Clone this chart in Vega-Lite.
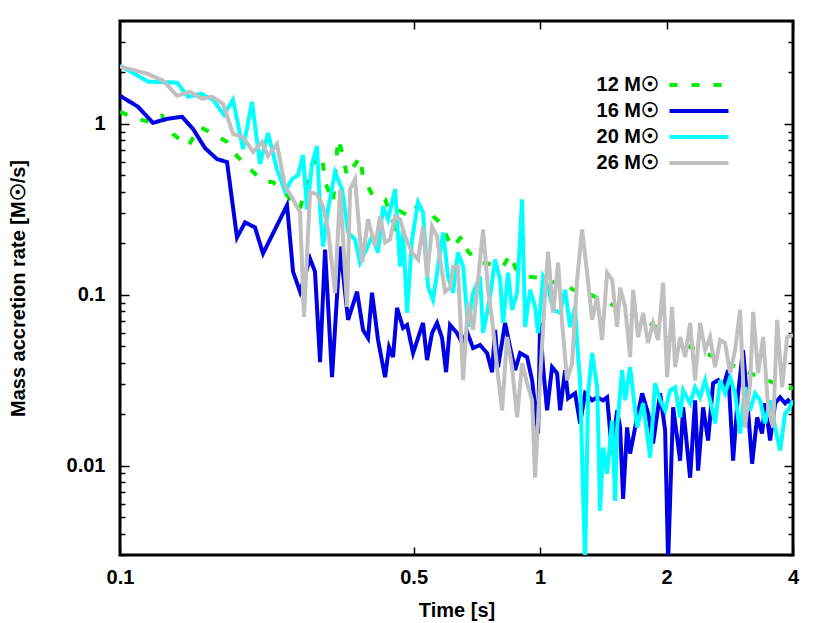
{
"$schema": "https://vega.github.io/schema/vega-lite/v6.json",
"width": 673, "height": 534,
"autosize": "none",
"padding": {"left": 120, "top": 21, "right": 37, "bottom": 68},
"background": "white",
"config": {
 "view": {"stroke": "black", "strokeWidth": 3},
 "font": "Liberation Sans",
 "axis": {"domain": false, "grid": false, "labelFont": "Liberation Sans", "labelFontSize": 20, "labelFontWeight": "bold", "labelColor": "black", "tickColor": "black", "tickWidth": 1.5, "titleFont": "Liberation Sans", "titleFontSize": 20, "titleFontWeight": "bold", "titleColor": "black", "labelFlush": false, "labelOverlap": false}
},
"datasets": {"d": [
{"s":"12","t":0.1,"v":1.176},{"s":"12","t":0.1098,"v":1.07},{"s":"12","t":0.1179,"v":1.027},{"s":"12","t":0.1259,"v":1.115},{"s":"12","t":0.1337,"v":0.873},{"s":"12","t":0.1452,"v":0.742},{"s":"12","t":0.155,"v":0.96},{"s":"12","t":0.1702,"v":0.85},{"s":"12","t":0.1798,"v":0.784},{"s":"12","t":0.1899,"v":0.648},{"s":"12","t":0.204,"v":0.544},{"s":"12","t":0.219,"v":0.462},{"s":"12","t":0.2313,"v":0.456},{"s":"12","t":0.2444,"v":0.404},{"s":"12","t":0.2683,"v":0.316},{"s":"12","t":0.2834,"v":0.566},{"s":"12","t":0.3027,"v":0.648},{"s":"12","t":0.3077,"v":0.456},{"s":"12","t":0.3215,"v":0.348},{"s":"12","t":0.3304,"v":0.816},{"s":"12","t":0.3378,"v":0.684},{"s":"12","t":0.3472,"v":0.494},{"s":"12","t":0.3728,"v":0.64},{"s":"12","t":0.379,"v":0.488},{"s":"12","t":0.4003,"v":0.377},{"s":"12","t":0.4276,"v":0.362},{"s":"12","t":0.4516,"v":0.251},{"s":"12","t":0.4642,"v":0.308},{"s":"12","t":0.4904,"v":0.288},{"s":"12","t":0.5094,"v":0.329},{"s":"12","t":0.5382,"v":0.316},{"s":"12","t":0.5562,"v":0.288},{"s":"12","t":0.5781,"v":0.265},{"s":"12","t":0.6172,"v":0.189},{"s":"12","t":0.6522,"v":0.22},{"s":"12","t":0.674,"v":0.179},{"s":"12","t":0.7119,"v":0.156},{"s":"12","t":0.7729,"v":0.15},{"s":"12","t":0.8165,"v":0.146},{"s":"12","t":0.8483,"v":0.172},{"s":"12","t":0.8815,"v":0.137},{"s":"12","t":0.9312,"v":0.128},{"s":"12","t":0.9837,"v":0.126},{"s":"12","t":1.0447,"v":0.118},{"s":"12","t":1.1283,"v":0.119},{"s":"12","t":1.1983,"v":0.107},{"s":"12","t":1.294,"v":0.103},{"s":"12","t":1.3895,"v":0.0935},{"s":"12","t":1.5253,"v":0.085},{"s":"12","t":1.808,"v":0.0694},{"s":"12","t":2.1309,"v":0.0529},{"s":"12","t":2.6388,"v":0.0426},{"s":"12","t":2.8027,"v":0.0398},{"s":"12","t":3.11,"v":0.0352},{"s":"12","t":3.396,"v":0.0325},{"s":"12","t":3.79,"v":0.0288},{"s":"12","t":4.0,"v":0.0284},
{"s":"16","t":0.1,"v":1.461},{"s":"16","t":0.1104,"v":1.259},{"s":"16","t":0.1198,"v":1.014},{"s":"16","t":0.1294,"v":1.07},{"s":"16","t":0.1405,"v":1.1},{"s":"16","t":0.1492,"v":0.935},{"s":"16","t":0.1593,"v":0.7225},{"s":"16","t":0.1702,"v":0.622},{"s":"16","t":0.1798,"v":0.598},{"s":"16","t":0.1899,"v":0.2164},{"s":"16","t":0.1985,"v":0.2652},{"s":"16","t":0.2096,"v":0.2478},{"s":"16","t":0.219,"v":0.1743},{"s":"16","t":0.2339,"v":0.2412},{"s":"16","t":0.2498,"v":0.3339},{"s":"16","t":0.2582,"v":0.1366},{"s":"16","t":0.2683,"v":0.1042},{"s":"16","t":0.2834,"v":0.1628},{"s":"16","t":0.2912,"v":0.1366},{"s":"16","t":0.2994,"v":0.04036},{"s":"16","t":0.3077,"v":0.1839},{"s":"16","t":0.3197,"v":0.03293},{"s":"16","t":0.3341,"v":0.1916},{"s":"16","t":0.3491,"v":0.07127},{"s":"16","t":0.3667,"v":0.1042},{"s":"16","t":0.379,"v":0.06223},{"s":"16","t":0.3895,"v":0.05585},{"s":"16","t":0.3981,"v":0.1027},{"s":"16","t":0.4114,"v":0.05434},{"s":"16","t":0.4276,"v":0.03293},{"s":"16","t":0.437,"v":0.04943},{"s":"16","t":0.4467,"v":0.04318},{"s":"16","t":0.4566,"v":0.08384},{"s":"16","t":0.4718,"v":0.06394},{"s":"16","t":0.4823,"v":0.06659},{"s":"16","t":0.4985,"v":0.04559},{"s":"16","t":0.5122,"v":0.05585},{"s":"16","t":0.5264,"v":0.06843},{"s":"16","t":0.5382,"v":0.04146},{"s":"16","t":0.5532,"v":0.05976},{"s":"16","t":0.5685,"v":0.06843},{"s":"16","t":0.5844,"v":0.05585},{"s":"16","t":0.5973,"v":0.03524},{"s":"16","t":0.6105,"v":0.06659},{"s":"16","t":0.6339,"v":0.05976},{"s":"16","t":0.6522,"v":0.0522},{"s":"16","t":0.6703,"v":0.06058},{"s":"16","t":0.6926,"v":0.04877},{"s":"16","t":0.7197,"v":0.0508},{"s":"16","t":0.7478,"v":0.04559},{"s":"16","t":0.7686,"v":0.03524},{"s":"16","t":0.7814,"v":0.06223},{"s":"16","t":0.7943,"v":0.03771},{"s":"16","t":0.8255,"v":0.06843},{"s":"16","t":0.8483,"v":0.04943},{"s":"16","t":0.8719,"v":0.03621},{"s":"16","t":0.8962,"v":0.04559},{"s":"16","t":0.9312,"v":0.04318},{"s":"16","t":0.9572,"v":0.03162},{"s":"16","t":0.9891,"v":0.01543},{"s":"16","t":1.0,"v":0.06843},{"s":"16","t":1.0166,"v":0.03771},{"s":"16","t":1.0391,"v":0.02106},{"s":"16","t":1.068,"v":0.03771},{"s":"16","t":1.0978,"v":0.03476},{"s":"16","t":1.116,"v":0.02106},{"s":"16","t":1.147,"v":0.03621},{"s":"16","t":1.166,"v":0.02477},{"s":"16","t":1.2115,"v":0.02651},{"s":"16","t":1.2453,"v":0.01767},{"s":"16","t":1.2799,"v":0.02651},{"s":"16","t":1.3302,"v":0.02412},{"s":"16","t":1.3675,"v":0.02512},{"s":"16","t":1.4125,"v":0.02412},{"s":"16","t":1.444,"v":0.02512},{"s":"16","t":1.484,"v":0.01176},{"s":"16","t":1.5253,"v":0.02106},{"s":"16","t":1.5505,"v":0.01673},{"s":"16","t":1.5763,"v":0.00639},{"s":"16","t":1.6113,"v":0.01673},{"s":"16","t":1.6379,"v":0.01176},{"s":"16","t":1.7021,"v":0.01916},{"s":"16","t":1.7494,"v":0.02651},{"s":"16","t":1.808,"v":0.02022},{"s":"16","t":1.8578,"v":0.01347},{"s":"16","t":1.9307,"v":0.02651},{"s":"16","t":1.9846,"v":0.01607},{"s":"16","t":2.0173,"v":0.00276},{"s":"16","t":2.0733,"v":0.02195},{"s":"16","t":2.1544,"v":0.0107},{"s":"16","t":2.1903,"v":0.02195},{"s":"16","t":2.2758,"v":0.0085},{"s":"16","t":2.3389,"v":0.02412},{"s":"16","t":2.3778,"v":0.00935},{"s":"16","t":2.444,"v":0.02195},{"s":"16","t":2.5119,"v":0.01404},{"s":"16","t":2.5816,"v":0.03037},{"s":"16","t":2.6533,"v":0.03162},{"s":"16","t":2.7271,"v":0.02876},{"s":"16","t":2.8027,"v":0.03621},{"s":"16","t":2.8804,"v":0.0107},{"s":"16","t":2.9603,"v":0.02651},{"s":"16","t":3.0425,"v":0.04748},{"s":"16","t":3.127,"v":0.02106},{"s":"16","t":3.197,"v":0.01027},{"s":"16","t":3.286,"v":0.01916},{"s":"16","t":3.3772,"v":0.01543},{"s":"16","t":3.433,"v":0.02316},{"s":"16","t":3.5287,"v":0.01404},{"s":"16","t":3.627,"v":0.02316},{"s":"16","t":3.7276,"v":0.02512},{"s":"16","t":3.831,"v":0.02316},{"s":"16","t":3.895,"v":0.02412},{"s":"16","t":4.0,"v":0.02254},
{"s":"20","t":0.1,"v":2.193},{"s":"20","t":0.1166,"v":1.767},{"s":"20","t":0.1367,"v":1.743},{"s":"20","t":0.1452,"v":1.441},{"s":"20","t":0.1559,"v":1.501},{"s":"20","t":0.1665,"v":1.384},{"s":"20","t":0.1768,"v":1.13},{"s":"20","t":0.1858,"v":1.384},{"s":"20","t":0.1963,"v":0.7128},{"s":"20","t":0.2062,"v":1.347},{"s":"20","t":0.2154,"v":0.5817},{"s":"20","t":0.2251,"v":0.8852},{"s":"20","t":0.2364,"v":0.5435},{"s":"20","t":0.2471,"v":0.4036},{"s":"20","t":0.2568,"v":0.4748},{"s":"20","t":0.2653,"v":0.5012},{"s":"20","t":0.2727,"v":0.6572},{"s":"20","t":0.2787,"v":0.3162},{"s":"20","t":0.2865,"v":0.5817},{"s":"20","t":0.2944,"v":0.7422},{"s":"20","t":0.2994,"v":0.3162},{"s":"20","t":0.3043,"v":0.1916},{"s":"20","t":0.3128,"v":0.3162},{"s":"20","t":0.325,"v":0.522},{"s":"20","t":0.3378,"v":0.4146},{"s":"20","t":0.3491,"v":0.2316},{"s":"20","t":0.3627,"v":0.2106},{"s":"20","t":0.3728,"v":0.1543},{"s":"20","t":0.3831,"v":0.1767},{"s":"20","t":0.3981,"v":0.2195},{"s":"20","t":0.4114,"v":0.1767},{"s":"20","t":0.4229,"v":0.3294},{"s":"20","t":0.4347,"v":0.2762},{"s":"20","t":0.4516,"v":0.4146},{"s":"20","t":0.4642,"v":0.1461},{"s":"20","t":0.4718,"v":0.2412},{"s":"20","t":0.4823,"v":0.07834},{"s":"20","t":0.4957,"v":0.2106},{"s":"20","t":0.5122,"v":0.3476},{"s":"20","t":0.5264,"v":0.3037},{"s":"20","t":0.5411,"v":0.1114},{"s":"20","t":0.5562,"v":0.09346},{"s":"20","t":0.5715,"v":0.1461},{"s":"20","t":0.5875,"v":0.2316},{"s":"20","t":0.6039,"v":0.1276},{"s":"20","t":0.6206,"v":0.1027},{"s":"20","t":0.6374,"v":0.1767},{"s":"20","t":0.6558,"v":0.1461},{"s":"20","t":0.674,"v":0.06483},{"s":"20","t":0.6926,"v":0.1027},{"s":"20","t":0.7197,"v":0.1276},{"s":"20","t":0.7316,"v":0.05976},{"s":"20","t":0.7603,"v":0.09732},{"s":"20","t":0.7814,"v":0.1606},{"s":"20","t":0.8032,"v":0.1225},{"s":"20","t":0.8165,"v":0.06843},{"s":"20","t":0.8391,"v":0.1347},{"s":"20","t":0.8577,"v":0.08163},{"s":"20","t":0.8815,"v":0.1027},{"s":"20","t":0.906,"v":0.3621},{"s":"20","t":0.9211,"v":0.06483},{"s":"20","t":0.9467,"v":0.107},{"s":"20","t":0.973,"v":0.085},{"s":"20","t":0.9891,"v":0.05976},{"s":"20","t":1.0166,"v":0.1276},{"s":"20","t":1.0447,"v":0.1114},{"s":"20","t":1.0739,"v":0.08163},{"s":"20","t":1.116,"v":0.07834},{"s":"20","t":1.147,"v":0.107},{"s":"20","t":1.1787,"v":0.06483},{"s":"20","t":1.2115,"v":0.085},{"s":"20","t":1.2249,"v":0.0522},{"s":"20","t":1.2453,"v":0.03162},{"s":"20","t":1.2659,"v":0.00684},{"s":"20","t":1.2799,"v":0.00276},{"s":"20","t":1.3011,"v":0.02651},{"s":"20","t":1.3302,"v":0.04559},{"s":"20","t":1.3675,"v":0.02876},{"s":"20","t":1.3895,"v":0.00544},{"s":"20","t":1.4125,"v":0.01276},{"s":"20","t":1.444,"v":0.00897},{"s":"20","t":1.484,"v":0.0184},{"s":"20","t":1.5087,"v":0.00622},{"s":"20","t":1.5253,"v":0.01673},{"s":"20","t":1.5677,"v":0.03621},{"s":"20","t":1.5937,"v":0.02412},{"s":"20","t":1.6379,"v":0.03771},{"s":"20","t":1.7021,"v":0.01673},{"s":"20","t":1.7591,"v":0.02316},{"s":"20","t":1.828,"v":0.01114},{"s":"20","t":1.8783,"v":0.03037},{"s":"20","t":1.9307,"v":0.02412},{"s":"20","t":1.9846,"v":0.02106},{"s":"20","t":2.0393,"v":0.02762},{"s":"20","t":2.0961,"v":0.02876},{"s":"20","t":2.1544,"v":0.01916},{"s":"20","t":2.1903,"v":0.02762},{"s":"20","t":2.2758,"v":0.02316},{"s":"20","t":2.3389,"v":0.02876},{"s":"20","t":2.404,"v":0.02512},{"s":"20","t":2.471,"v":0.03162},{"s":"20","t":2.5396,"v":0.02412},{"s":"20","t":2.6101,"v":0.01767},{"s":"20","t":2.6827,"v":0.03162},{"s":"20","t":2.7571,"v":0.02651},{"s":"20","t":2.8336,"v":0.03293},{"s":"20","t":2.9122,"v":0.02651},{"s":"20","t":2.9929,"v":0.01543},{"s":"20","t":3.076,"v":0.02876},{"s":"20","t":3.1623,"v":0.02106},{"s":"20","t":3.25,"v":0.02651},{"s":"20","t":3.3404,"v":0.02412},{"s":"20","t":3.433,"v":0.01767},{"s":"20","t":3.5287,"v":0.02412},{"s":"20","t":3.627,"v":0.01673},{"s":"20","t":3.7276,"v":0.01225},{"s":"20","t":3.831,"v":0.02022},{"s":"20","t":3.895,"v":0.02106},{"s":"20","t":4.0,"v":0.02412},
{"s":"26","t":0.1,"v":2.164},{"s":"26","t":0.116,"v":1.968},{"s":"26","t":0.1266,"v":1.79},{"s":"26","t":0.1367,"v":1.461},{"s":"26","t":0.1468,"v":1.543},{"s":"26","t":0.1567,"v":1.403},{"s":"26","t":0.1656,"v":1.441},{"s":"26","t":0.1759,"v":1.311},{"s":"26","t":0.1858,"v":0.8733},{"s":"26","t":0.1963,"v":0.8385},{"s":"26","t":0.2074,"v":0.6844},{"s":"26","t":0.2178,"v":0.7835},{"s":"26","t":0.2251,"v":0.6482},{"s":"26","t":0.2364,"v":0.7627},{"s":"26","t":0.2471,"v":0.4316},{"s":"26","t":0.2582,"v":0.3621},{"s":"26","t":0.2683,"v":0.3037},{"s":"26","t":0.2742,"v":0.07424},{"s":"26","t":0.2834,"v":0.3981},{"s":"26","t":0.2944,"v":0.3875},{"s":"26","t":0.3043,"v":0.3294},{"s":"26","t":0.3128,"v":0.2412},{"s":"26","t":0.325,"v":0.1027},{"s":"26","t":0.3341,"v":0.4146},{"s":"26","t":0.3472,"v":0.085},{"s":"26","t":0.3529,"v":0.4146},{"s":"26","t":0.3627,"v":0.4748},{"s":"26","t":0.3769,"v":0.1543},{"s":"26","t":0.3895,"v":0.2762},{"s":"26","t":0.4047,"v":0.1916},{"s":"26","t":0.4159,"v":0.2876},{"s":"26","t":0.4276,"v":0.2022},{"s":"26","t":0.4394,"v":0.2106},{"s":"26","t":0.4516,"v":0.2876},{"s":"26","t":0.4642,"v":0.2762},{"s":"26","t":0.4771,"v":0.2195},{"s":"26","t":0.4957,"v":0.1767},{"s":"26","t":0.5122,"v":0.1606},{"s":"26","t":0.5264,"v":0.2512},{"s":"26","t":0.5382,"v":0.1276},{"s":"26","t":0.5532,"v":0.2512},{"s":"26","t":0.5685,"v":0.2195},{"s":"26","t":0.5781,"v":0.1606},{"s":"26","t":0.594,"v":0.1042},{"s":"26","t":0.6105,"v":0.1099},{"s":"26","t":0.6206,"v":0.1461},{"s":"26","t":0.6374,"v":0.1461},{"s":"26","t":0.6558,"v":0.03162},{"s":"26","t":0.674,"v":0.08974},{"s":"26","t":0.6926,"v":0.06223},{"s":"26","t":0.7119,"v":0.1225},{"s":"26","t":0.7316,"v":0.2412},{"s":"26","t":0.7519,"v":0.107},{"s":"26","t":0.7686,"v":0.07127},{"s":"26","t":0.79,"v":0.03771},{"s":"26","t":0.812,"v":0.02106},{"s":"26","t":0.8345,"v":0.05662},{"s":"26","t":0.8577,"v":0.03771},{"s":"26","t":0.8815,"v":0.01916},{"s":"26","t":0.906,"v":0.03981},{"s":"26","t":0.9312,"v":0.03037},{"s":"26","t":0.9572,"v":0.02412},{"s":"26","t":0.973,"v":0.0085},{"s":"26","t":1.0,"v":0.03162},{"s":"26","t":1.0278,"v":0.1027},{"s":"26","t":1.0447,"v":0.179},{"s":"26","t":1.0739,"v":0.07834},{"s":"26","t":1.1038,"v":0.1543},{"s":"26","t":1.1283,"v":0.06843},{"s":"26","t":1.1596,"v":0.03162},{"s":"26","t":1.1918,"v":0.03981},{"s":"26","t":1.2249,"v":0.1225},{"s":"26","t":1.2589,"v":0.2412},{"s":"26","t":1.294,"v":0.1347},{"s":"26","t":1.3302,"v":0.07127},{"s":"26","t":1.3675,"v":0.09732},{"s":"26","t":1.4047,"v":0.05434},{"s":"26","t":1.444,"v":0.1347},{"s":"26","t":1.484,"v":0.1225},{"s":"26","t":1.5253,"v":0.06483},{"s":"26","t":1.5505,"v":0.1099},{"s":"26","t":1.5937,"v":0.085},{"s":"26","t":1.6379,"v":0.04318},{"s":"26","t":1.6651,"v":0.107},{"s":"26","t":1.7113,"v":0.05662},{"s":"26","t":1.7591,"v":0.07834},{"s":"26","t":1.808,"v":0.0522},{"s":"26","t":1.8578,"v":0.06843},{"s":"26","t":1.9093,"v":0.05434},{"s":"26","t":1.963,"v":0.1176},{"s":"26","t":2.0063,"v":0.03293},{"s":"26","t":2.062,"v":0.085},{"s":"26","t":2.0961,"v":0.03771},{"s":"26","t":2.1544,"v":0.05662},{"s":"26","t":2.2144,"v":0.04318},{"s":"26","t":2.2758,"v":0.06843},{"s":"26","t":2.3389,"v":0.03162},{"s":"26","t":2.404,"v":0.06843},{"s":"26","t":2.471,"v":0.04748},{"s":"26","t":2.5396,"v":0.05662},{"s":"26","t":2.6101,"v":0.03771},{"s":"26","t":2.6827,"v":0.05434},{"s":"26","t":2.7571,"v":0.0522},{"s":"26","t":2.8336,"v":0.03476},{"s":"26","t":2.9122,"v":0.04748},{"s":"26","t":2.9929,"v":0.08163},{"s":"26","t":3.076,"v":0.01673},{"s":"26","t":3.1623,"v":0.03037},{"s":"26","t":3.2148,"v":0.07943},{"s":"26","t":3.304,"v":0.03476},{"s":"26","t":3.396,"v":0.05662},{"s":"26","t":3.49,"v":0.02195},{"s":"26","t":3.5879,"v":0.01673},{"s":"26","t":3.667,"v":0.07127},{"s":"26","t":3.769,"v":0.02876},{"s":"26","t":3.873,"v":0.05662},{"s":"26","t":4.0,"v":0.05818}
]},
"data": {"name": "d"},
"layer": [
 {"transform": [{"filter": "datum.s == '12'"}],
  "mark": {"type": "line", "strokeWidth": 4, "clip": true},
  "encoding": {
   "x": {"field": "t", "type": "quantitative", "scale": {"type": "log", "domain": [0.1, 4], "nice": false},
         "axis": {"orient": "bottom", "values": [0.1, 0.5, 1, 2, 4], "format": "~g", "tickSize": -8, "labelPadding": 20, "title": "Time [s]", "titlePadding": 13}},
   "y": {"field": "v", "type": "quantitative", "scale": {"type": "log", "domain": [0.003, 4], "nice": false},
         "axis": {"orient": "left", "values": [0.003,0.004,0.005,0.006,0.007,0.008,0.009,0.01,0.02,0.03,0.04,0.05,0.06,0.07,0.08,0.09,0.1,0.2,0.3,0.4,0.5,0.6,0.7,0.8,0.9,1,2,3,4], "format": "~g",
                  "labelExpr": "(datum.value == 0.01 || datum.value == 0.1 || datum.value == 1) ? datum.label : ''",
                  "tickSize": {"condition": {"test": "datum.value == 0.01 || datum.value == 0.1 || datum.value == 1", "value": -9}, "value": -5},
                  "labelPadding": 24, "title": "Mass accretion rate [M☉/s]", "titlePadding": 38}},
   "color": {"field": "s", "type": "nominal", "scale": {"domain": ["12","16","20","26"], "range": ["#00ee00","#0000e8","#00ffff","#c0c0c0"]},
     "legend": {"orient": "none", "legendX": 569, "legendY": 54, "title": null, "symbolType": "M-5.9,0H5.9", "symbolSize": 100, "symbolStrokeWidth": 4, "labelAlign": "right", "labelOffset": -50, "labelFontSize": 20, "labelFontWeight": "bold", "labelFont": "Liberation Sans", "labelColor": "black", "labelExpr": "datum.label + ' M☉'", "rowPadding": 6, "padding": 0, "labelLimit": 0}},
   "strokeDash": {"field": "s", "type": "nominal", "scale": {"domain": ["12","16","20","26"], "range": [[8,14],[1,0],[1,0],[1,0]]},
     "legend": {"orient": "none", "legendX": 569, "legendY": 54, "title": null, "symbolType": "M-5.9,0H5.9", "symbolSize": 100, "symbolStrokeWidth": 4, "labelAlign": "right", "labelOffset": -50, "labelFontSize": 20, "labelFontWeight": "bold", "labelFont": "Liberation Sans", "labelColor": "black", "labelExpr": "datum.label + ' M☉'", "rowPadding": 6, "padding": 0, "labelLimit": 0}}
  }},
 {"transform": [{"filter": "datum.s == '16'"}],
  "mark": {"type": "line", "strokeWidth": 4, "clip": true},
  "encoding": {
   "x": {"field": "t", "type": "quantitative", "scale": {"type": "log", "domain": [0.1, 4], "nice": false},
         "axis": {"orient": "top", "values": [0.1, 0.5, 1, 2, 4], "labels": false, "tickSize": -8, "title": null}},
   "y": {"field": "v", "type": "quantitative", "scale": {"type": "log", "domain": [0.003, 4], "nice": false},
         "axis": {"orient": "right", "values": [0.003,0.004,0.005,0.006,0.007,0.008,0.009,0.01,0.02,0.03,0.04,0.05,0.06,0.07,0.08,0.09,0.1,0.2,0.3,0.4,0.5,0.6,0.7,0.8,0.9,1,2,3,4], "labels": false,
                  "tickSize": {"condition": {"test": "datum.value == 0.01 || datum.value == 0.1 || datum.value == 1", "value": -9}, "value": -5}, "title": null}},
   "color": {"field": "s", "type": "nominal"},
   "strokeDash": {"field": "s", "type": "nominal"}
  }},
 {"transform": [{"filter": "datum.s == '20'"}],
  "mark": {"type": "line", "strokeWidth": 4, "clip": true},
  "encoding": {
   "x": {"field": "t", "type": "quantitative", "axis": null},
   "y": {"field": "v", "type": "quantitative", "axis": null},
   "color": {"field": "s", "type": "nominal"},
   "strokeDash": {"field": "s", "type": "nominal"}
  }},
 {"transform": [{"filter": "datum.s == '26'"}],
  "mark": {"type": "line", "strokeWidth": 4, "clip": true},
  "encoding": {
   "x": {"field": "t", "type": "quantitative", "axis": null},
   "y": {"field": "v", "type": "quantitative", "axis": null},
   "color": {"field": "s", "type": "nominal"},
   "strokeDash": {"field": "s", "type": "nominal"}
  }}
],
"resolve": {"axis": {"x": "independent", "y": "independent"}}
}
